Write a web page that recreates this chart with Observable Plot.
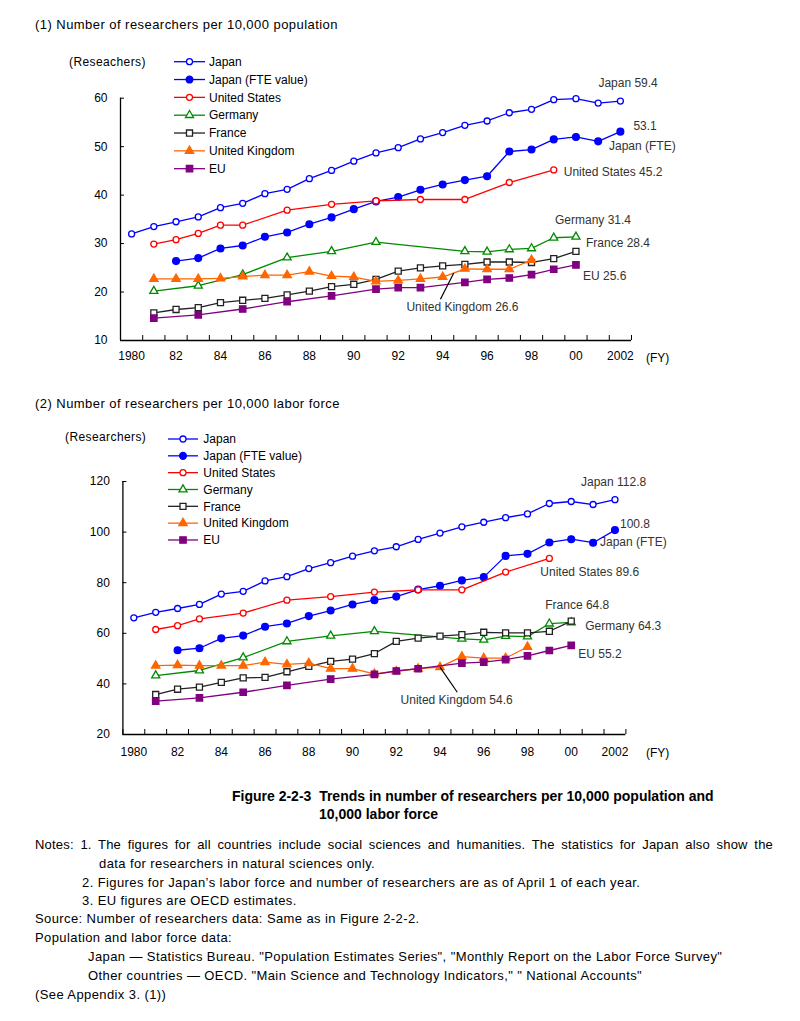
<!DOCTYPE html>
<html><head><meta charset="utf-8">
<script src="https://cdn.jsdelivr.net/npm/d3@7"></script>
<script src="https://cdn.jsdelivr.net/npm/@observablehq/plot@0.6"></script>
<style>
body{margin:0;background:#fff;font-family:"Liberation Sans",Arial,sans-serif;color:#000;}
#page{position:relative;width:800px;height:1021px;overflow:hidden;}
.abs{position:absolute;white-space:pre;line-height:1;}
.note{font-size:13px;letter-spacing:0.4px;}
.cap{font-size:14px;font-weight:bold;}
</style></head><body><div id="page"></div>
<script>
// ---------- DATA ----------
const years = d3.range(1980, 2003);
const seriesNames = ["Japan", "Japan (FTE value)", "United States", "Germany", "France", "United Kingdom", "EU"];

// (1) researchers per 10,000 population, FY1980..2002 (null = no data)
const popJapan    = [32.0,33.5,34.5,35.5,37.4,38.3,40.3,41.2,43.4,45.1,47.0,48.7,49.8,51.6,52.9,54.4,55.3,57.0,57.7,59.7,59.9,59.0,59.4];
const popJapanFTE = [null,null,26.4,27.0,29.0,29.6,31.4,32.3,34.0,35.4,37.1,38.7,39.6,41.1,42.2,43.1,43.9,49.0,49.4,51.5,52.0,51.1,53.1];
const popUS       = [null,29.9,30.8,32.1,33.8,33.8,null,36.9,null,38.1,null,38.8,null,39.1,null,39.1,null,42.6,null,45.2,null,null,null];
const popGermany  = [null,20.2,null,21.3,null,23.6,null,27.1,null,28.4,null,30.3,null,null,null,28.4,28.3,28.8,29.0,31.2,31.4,null,null];
const popFrance   = [null,15.7,16.4,16.8,17.8,18.3,18.7,19.4,20.2,21.1,21.6,22.6,24.3,25.0,25.4,25.7,26.2,26.2,26.1,26.9,28.4,null,null];
const popUK       = [null,22.7,22.7,22.7,22.8,23.2,23.5,23.5,24.2,23.3,23.1,22.2,22.4,22.7,23.1,24.8,24.7,24.7,26.6,null,null,null,null];
const popEU       = [null,14.6,null,15.3,null,16.5,null,18.0,null,19.2,null,20.6,20.9,20.9,null,22.0,22.6,22.9,23.6,24.7,25.6,null,null];

// (2) researchers per 10,000 labor force
const labJapan    = [66.1,68.3,69.8,71.4,75.5,76.6,80.7,82.4,85.6,87.9,90.5,92.6,94.2,97.1,99.6,102.1,103.9,105.7,107.2,111.3,112.1,110.9,112.8];
const labJapanFTE = [null,null,53.3,54.1,58.0,59.1,62.6,63.9,66.8,69.0,71.4,73.1,74.5,77.3,78.8,80.9,82.2,90.6,91.4,95.9,97.2,95.8,100.8];
const labUS       = [null,61.5,63.0,65.7,null,68.0,null,73.1,null,74.5,null,76.3,null,77.2,null,77.2,null,84.2,null,89.6,null,null,null];
const labGermany  = [null,43.3,null,45.3,null,50.4,null,56.8,null,59.0,null,60.8,null,null,null,57.8,57.4,58.9,58.7,63.8,64.3,null,null];
const labFrance   = [null,35.8,37.9,38.7,40.6,42.4,42.6,44.8,46.9,48.9,49.8,52.0,56.8,58.1,58.9,59.5,60.4,60.2,60.2,60.8,64.8,null,null];
const labUK       = [null,47.2,47.4,47.2,47.2,47.2,48.6,47.7,48.2,46.0,46.0,44.0,45.0,46.0,46.6,50.8,50.2,50.2,54.6,null,null,null,null];
const labEU       = [null,33.2,null,34.5,null,36.7,null,39.4,null,41.9,null,43.8,45.1,46.0,null,48.2,48.6,49.6,51.1,53.2,55.2,null,null];

const popYTicks = [10, 20, 30, 40, 50, 60];
const labYTicks = [20, 40, 60, 80, 100, 120];
const xLabelYears = d3.range(1980, 2003, 2);
const xTickFormat = y => (y === 1980 || y === 2002) ? String(y) : String(y % 100).padStart(2, "0");

// ---------- STYLE ----------
const styles = {
  "Japan":             {color: "#0000ff", symbol: "circle",   filled: false, r: 3.0},
  "Japan (FTE value)": {color: "#0000ff", symbol: "circle",   filled: true,  r: 3.4},
  "United States":     {color: "#ff0000", symbol: "circle",   filled: false, r: 3.0},
  "Germany":           {color: "#008a00", symbol: "triangle", filled: false, r: 3.0},
  "France":            {color: "#222222", symbol: "square",   filled: false, r: 3.4},
  "United Kingdom":    {color: "#ff6600", symbol: "triangle", filled: true,  r: 3.1},
  "EU":                {color: "#800080", symbol: "square",   filled: true,  r: 3.6}
};
const FONT = "'Liberation Sans', Arial, sans-serif";

const page = document.getElementById("page");
function addText(txt, left, top, cls, extra) {
  const d = document.createElement("div");
  d.className = "abs " + (cls || "");
  d.textContent = txt;
  d.style.left = left + "px"; d.style.top = top + "px";
  if (extra) Object.assign(d.style, extra);
  page.appendChild(d);
  return d;
}

function rowsOf(vals) {
  return vals.map((v, i) => ({year: years[i], value: v})).filter(d => d.value != null);
}

function makeChart(cfg) {
  const halfYears = d3.range(1979.5, 2003, 1);
  const marks = [
    Plot.ruleY([cfg.yDomain[0]], {stroke: "#000", strokeWidth: 1.3}),
    Plot.ruleX([1979.5], {y1: cfg.yDomain[0], y2: cfg.yDomain[1], stroke: "#000", strokeWidth: 1.3}),
    Plot.axisY({ticks: cfg.yTicks, tickSize: 4, dx: 4, tickFormat: () => "", label: null}),
    Plot.axisY({ticks: cfg.yTicks, tickSize: 0, tickPadding: 13, fontSize: 12, label: null}),
    Plot.axisX({ticks: halfYears, tickSize: 5, dy: -5, tickFormat: () => "", label: null}),
    Plot.axisX({ticks: xLabelYears, tickSize: 0, tickPadding: cfg.xPad, fontSize: 12, tickFormat: xTickFormat, label: null})
  ];
  cfg.series.forEach((vals, i) => {
    const st = styles[seriesNames[i]];
    const rows = rowsOf(vals);
    marks.push(Plot.line(rows, {x: "year", y: "value", stroke: st.color, strokeWidth: 1.3}));
    marks.push(Plot.dot(rows, {x: "year", y: "value", symbol: st.symbol, r: st.r,
      fill: st.filled ? st.color : "#fff", stroke: st.color, strokeWidth: 1.3}));
  });
  // end labels
  cfg.labels.forEach(lb => {
    const rows = rowsOf(cfg.series[seriesNames.indexOf(lb.series)]);
    const last = rows[rows.length - 1];
    marks.push(Plot.text([last], {x: "year", y: "value",
      text: d => lb.prefix + d.value.toFixed(1), dx: lb.dx, dy: lb.dy,
      textAnchor: "start", fill: "#333", fontSize: 12}));
  });
  // UK leader line + label
  const uk = rowsOf(cfg.series[5]);
  const ukLast = uk[uk.length - 1];
  const a = uk.find(d => d.year === 1994), b = uk.find(d => d.year === 1995);
  const start = cfg.ukFromMid ? {year: (a.year + b.year) / 2, value: (a.value + b.value) / 2} : a;
  marks.push(Plot.link([start], {x1: "year", y1: "value", x2: () => cfg.ukEnd[0], y2: () => cfg.ukEnd[1], stroke: "#000", strokeWidth: 1.2}));
  marks.push(Plot.text([ukLast], {x: () => cfg.ukEnd[0], y: () => cfg.ukEnd[1],
    text: d => "United Kingdom " + d.value.toFixed(1), dx: cfg.ukDx, dy: cfg.ukDy,
    textAnchor: "start", fill: "#333", fontSize: 12}));

  const svg = Plot.plot({
    width: 800, height: cfg.height,
    marginTop: cfg.mt, marginBottom: cfg.mb, marginLeft: cfg.ml, marginRight: cfg.mr,
    x: {type: "linear", domain: [1979.5, 2002.5], label: null},
    y: {domain: cfg.yDomain, label: null},
    style: {fontFamily: FONT, fontSize: "12px", color: "#000", background: "transparent", overflow: "visible"},
    marks
  });
  svg.style.position = "absolute";
  svg.style.left = "0px";
  svg.style.top = cfg.top + "px";
  page.appendChild(svg);
}

makeChart({
  top: 40, height: 340, mt: 57.7, mb: 40, ml: 120, mr: 169, xPad: 11,
  yDomain: [10, 60], yTicks: popYTicks,
  series: [popJapan, popJapanFTE, popUS, popGermany, popFrance, popUK, popEU],
  labels: [
    {series: "Japan", prefix: "Japan ", dx: -22, dy: -18},
    {series: "Japan (FTE value)", prefix: "", dx: 13, dy: -5},
    {series: "United States", prefix: "United States ", dx: 10, dy: 2.5},
    {series: "Germany", prefix: "Germany ", dx: -21, dy: -16.6},
    {series: "France", prefix: "France ", dx: 10, dy: -8},
    {series: "EU", prefix: "EU ", dx: 7, dy: 11}
  ],
  ukFromMid: true, ukEnd: [1993.9, 18.5], ukDx: -34, ukDy: 8
});

makeChart({
  top: 430, height: 340, mt: 51, mb: 36, ml: 122.4, mr: 174.6, xPad: 13,
  yDomain: [20, 120], yTicks: labYTicks,
  series: [labJapan, labJapanFTE, labUS, labGermany, labFrance, labUK, labEU],
  labels: [
    {series: "Japan", prefix: "Japan ", dx: -34, dy: -17.6},
    {series: "Japan (FTE value)", prefix: "", dx: 5, dy: -5.6},
    {series: "United States", prefix: "United States ", dx: -9, dy: 14},
    {series: "France", prefix: "France ", dx: -26, dy: -16},
    {series: "Germany", prefix: "Germany ", dx: 14, dy: 4},
    {series: "EU", prefix: "EU ", dx: 7, dy: 8.5}
  ],
  ukFromMid: false, ukEnd: [1994.79, 36.7], ukDx: -56.7, ukDy: 7.6
});

// "Japan (FTE)" secondary labels next to the FTE end points
addText("Japan (FTE)", 609, 139.5, "", {fontSize: "12px", color: "#333"});
addText("Japan (FTE)", 600, 536, "", {fontSize: "12px", color: "#333"});

// ---------- LEGENDS ----------
const ov = d3.select(page).append("svg")
  .attr("width", 800).attr("height", 1021)
  .style("position", "absolute").style("left", 0).style("top", 0)
  .style("pointer-events", "none").style("font-family", FONT);
function legend(x1, x2, mx, tx, y0, step) {
  seriesNames.forEach((name, i) => {
    const st = styles[name];
    const y = y0 + i * step;
    ov.append("line").attr("x1", x1).attr("x2", x2).attr("y1", y).attr("y2", y)
      .attr("stroke", st.color).attr("stroke-width", 1.3);
    const sym = st.symbol === "circle" ? d3.symbolCircle : st.symbol === "triangle" ? d3.symbolTriangle : d3.symbolSquare;
    ov.append("path").attr("d", d3.symbol(sym, Math.PI * st.r * st.r)())
      .attr("transform", `translate(${mx},${y})`)
      .attr("fill", st.filled ? st.color : "#fff").attr("stroke", st.color).attr("stroke-width", 1.3);
    ov.append("text").attr("x", tx).attr("y", y).attr("dy", "0.35em")
      .attr("font-size", 12).attr("fill", "#000").text(name);
  });
}
legend(174, 205, 189.5, 209, 61.7, 17.83);
legend(168, 198, 183, 203.3, 439, 16.83);

// ---------- TEXTS ----------
addText("(1) Number of researchers per 10,000 population", 35, 18, "", {fontSize: "13px", letterSpacing: "0.45px"});
addText("(Reseachers)", 69, 55.5, "", {fontSize: "12px", letterSpacing: "0.4px"});
addText("(FY)", 646, 352, "", {fontSize: "12px"});
addText("(2) Number of researchers per 10,000 labor force", 35, 397, "", {fontSize: "13px", letterSpacing: "0.45px"});
addText("(Researchers)", 65, 431, "", {fontSize: "12px", letterSpacing: "0.4px"});
addText("(FY)", 646, 747, "", {fontSize: "12px"});

addText("Figure 2-2-3  Trends in number of researchers per 10,000 population and", 232, 789, "cap");
addText("10,000 labor force", 319, 807, "cap");

addText("Notes: 1. The figures for all countries include social sciences and humanities. The statistics for Japan also show the", 35, 838, "note",
  {width: "738px", whiteSpace: "normal", textAlign: "justify", textAlignLast: "justify", letterSpacing: "0.2px"});
addText("data for researchers in natural sciences only.", 99, 857.3, "note");
addText("2. Figures for Japan\u2019s labor force and number of researchers are as of April 1 of each year.", 82, 876.3, "note");
addText("3. EU figures are OECD estimates.", 82, 894, "note");
addText("Source: Number of researchers data: Same as in Figure 2-2-2.", 35, 912.3, "note");
addText("Population and labor force data:", 35, 931.3, "note");
addText("Japan \u2014 Statistics Bureau. \"Population Estimates Series\", \"Monthly Report on the Labor Force Survey\"", 88, 950.3, "note");
addText("Other countries \u2014 OECD. \"Main Science and Technology Indicators,\" \" National Accounts\"", 88, 969, "note");
addText("(See Appendix 3. (1))", 35, 988, "note");
</script>
</body></html>
